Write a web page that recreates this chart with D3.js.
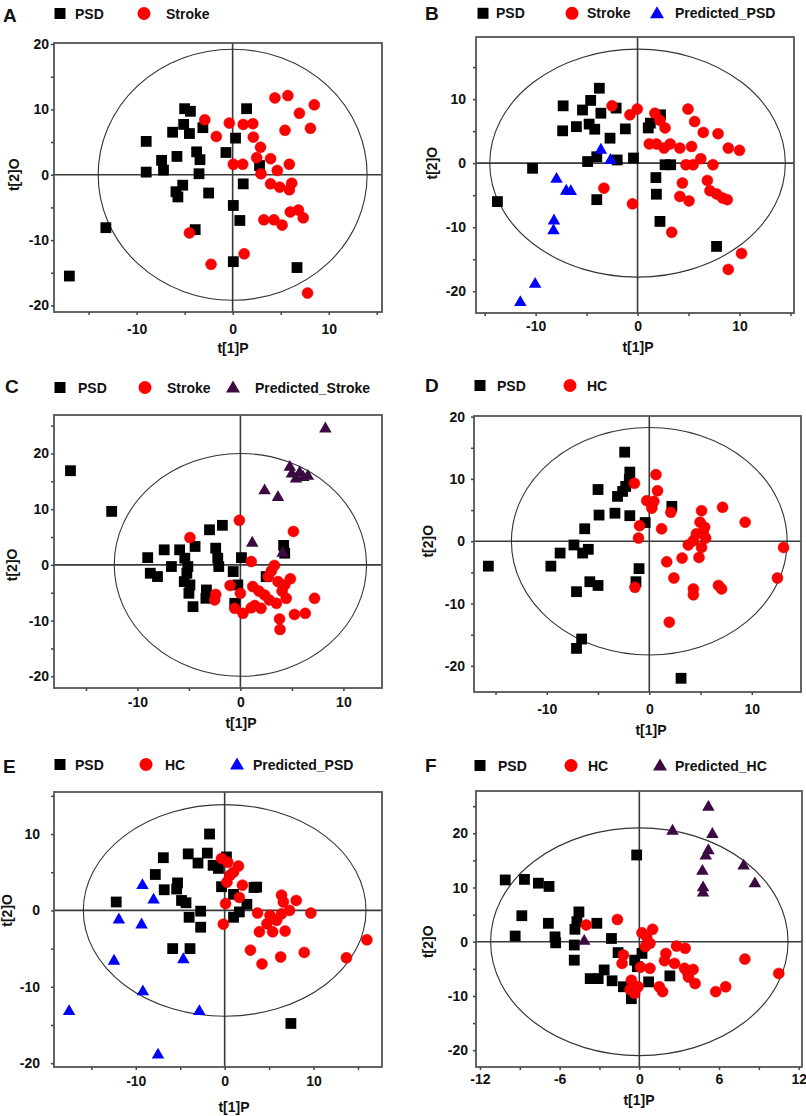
<!DOCTYPE html>
<html><head><meta charset="utf-8">
<script src="https://cdn.jsdelivr.net/npm/d3@7"></script>
<style>
body{margin:0;background:#fff}
svg text{font-family:"Liberation Sans",Arial,Helvetica,sans-serif;font-weight:bold;fill:#111}
</style></head><body>
<svg id="chart" width="806" height="1116"></svg>
<script>
// ---------- DATA ----------
const A_PSD = [[-17.0,-15.5],[-13.2,-8.1],[-9.0,5.1],[-9.0,0.4],[-7.4,2.2],[-7.2,0.7],[-6.25,6.5],[-5.8,2.8],[-5.9,-2.6],[-5.7,-3.4],[-5.2,-1.6],[-5.1,7.7],[-5.0,10.1],[-4.4,9.7],[-4.5,6.3],[-3.75,3.5],[-3.4,2.3],[-3.5,0.15],[-3.1,7.2],[-3.9,-8.4],[-2.5,-2.8],[-0.7,3.4],[0.3,5.6],[0.07,-4.7],[0.75,-7.0],[0.07,-13.3],[1.1,-1.4],[1.45,10.1],[2.8,1.4],[6.7,-14.2]];
const A_Stroke = [[-2.9,8.4],[-1.7,5.85],[-0.35,7.9],[1.1,7.7],[2.1,7.8],[2.15,5.75],[2.9,4.2],[2.5,2.6],[2.95,0.15],[0.07,1.6],[1.05,1.6],[3.95,2.45],[4.65,0.65],[5.9,1.6],[3.95,-1.4],[4.9,-1.9],[5.9,-2.3],[6.15,-1.3],[4.4,11.75],[5.75,12.1],[6.95,9.4],[8.5,10.7],[5.45,6.8],[8.1,7.1],[3.25,-6.9],[4.3,-6.9],[5.15,-7.7],[6.0,-5.7],[6.85,-5.4],[7.35,-6.6],[-4.5,-8.9],[-2.25,-13.7],[1.2,-12.1],[7.8,-18.1]];

const B_PSD = [[-13.75,-6.0],[-10.3,-0.8],[-7.3,8.95],[-7.35,5.05],[-6.0,5.7],[-5.4,8.3],[-4.6,9.8],[-3.75,11.7],[-3.6,7.8],[-4.75,6.1],[-4.2,5.3],[-4.9,0.25],[-4.0,1.0],[-2.7,3.9],[-2.1,8.6],[-2.0,0.5],[-1.2,5.35],[-0.4,0.8],[-4.0,-5.7],[1.05,5.5],[1.25,6.25],[2.25,7.55],[1.8,-2.25],[1.85,-4.85],[2.2,-9.1],[2.7,-0.25],[3.25,-0.25],[7.75,-13.0]];
const B_Stroke = [[-2.5,8.95],[-0.75,7.55],[-0.03,8.45],[1.7,7.8],[2.2,6.7],[2.7,5.5],[1.15,3.0],[1.85,3.0],[2.6,2.35],[3.2,3.0],[4.15,2.35],[5.3,2.6],[4.95,8.45],[5.6,6.5],[6.45,4.8],[7.9,4.6],[8.9,2.35],[10.0,2.0],[4.75,-0.25],[5.45,-0.25],[6.2,0.7],[7.4,-0.25],[4.4,-3.1],[4.15,-5.2],[5.05,-5.9],[6.85,-2.7],[7.1,-4.3],[7.75,-4.8],[8.35,-5.45],[8.8,-5.7],[-3.3,-3.9],[-0.5,-6.35],[3.35,-10.8],[10.2,-14.1],[8.9,-16.6]];
const B_Predicted_PSD = [[-3.6,2.2],[-2.65,0.6],[-7.95,-2.35],[-7.0,-4.2],[-6.55,-4.25],[-8.2,-8.85],[-8.25,-10.4],[-10.05,-18.75],[-11.5,-21.6]];

const C_PSD = [[-16.5,16.9],[-12.5,9.6],[-9.0,1.3],[-8.75,-1.5],[-8.05,-2.1],[-7.4,2.7],[-6.7,-0.3],[-5.9,2.7],[-5.4,1.2],[-5.1,-0.3],[-5.2,-1.5],[-5.45,-3.0],[-4.9,-3.6],[-5.0,-5.1],[-4.4,3.3],[-4.6,-7.5],[-3.3,-4.5],[-3.35,-6.0],[-3.0,6.3],[-2.4,3.0],[-2.2,1.2],[-2.1,-0.3],[-1.75,7.1],[-0.7,-1.2],[-0.25,-3.6],[-0.55,-6.9],[0.1,1.3],[2.5,-2.1],[4.2,3.5],[4.3,2.1]];
const C_Stroke = [[-4.9,4.9],[-2.4,-5.3],[-2.5,-6.3],[-1.0,-3.7],[-0.1,8.0],[0.0,-5.1],[-0.55,-7.8],[0.25,-8.7],[1.05,0.6],[1.2,-3.9],[1.4,-7.3],[1.8,-4.7],[2.0,-7.8],[2.35,-5.4],[2.8,-6.3],[2.7,-2.1],[3.0,-1.1],[3.3,-0.1],[3.65,-3.0],[3.5,-6.9],[4.05,-4.7],[4.3,-3.6],[4.45,-6.0],[4.85,-2.5],[3.8,-9.7],[3.85,-11.6],[5.15,6.0],[5.25,-8.9],[6.3,-8.7],[7.2,-6.0],[1.05,-7.7]];
const C_Predicted_Stroke = [[8.25,24.6],[4.8,17.7],[5.0,16.5],[5.75,16.7],[6.1,15.9],[6.55,16.1],[5.4,15.6],[2.35,13.5],[3.65,12.3],[1.15,4.1],[4.1,2.3]];

const D_PSD = [[-15.7,-4.0],[-9.6,-4.0],[-8.7,-1.9],[-7.35,-0.6],[-6.5,-1.9],[-5.95,-1.3],[-6.3,2.0],[-7.1,-8.1],[-5.8,-6.5],[-5.0,-7.1],[-4.9,4.2],[-5.0,8.3],[-3.35,4.5],[-3.1,7.2],[-2.6,8.0],[-2.3,8.8],[-1.9,11.1],[-2.4,14.3],[-1.9,4.1],[-0.4,3.0],[-1.0,-4.4],[-1.3,-6.5],[2.2,5.6],[-7.1,-17.2],[-6.6,-15.7],[3.1,-22.0],[-1.95,9.9]];
const D_HC = [[-1.45,9.3],[0.65,10.7],[0.8,8.1],[-0.25,6.5],[0.45,6.4],[0.25,5.3],[-0.95,2.5],[-1.05,0.5],[1.2,2.0],[2.1,4.65],[-1.4,-7.4],[1.7,-3.3],[2.4,-5.9],[3.2,-2.7],[1.95,-13.0],[3.8,-0.6],[4.3,0.1],[4.85,-2.6],[4.95,3.05],[5.1,4.9],[5.25,1.45],[5.4,2.25],[5.5,0.5],[5.1,-1.0],[4.3,-7.65],[4.3,-8.6],[6.75,-7.1],[7.05,-7.65],[7.15,5.45],[9.35,3.05],[12.5,-5.9],[13.1,-1.0],[4.6,1.2]];

const E_PSD = [[-12.2,1.1],[-7.8,4.7],[-6.9,6.9],[-6.8,2.7],[-5.4,2.8],[-5.3,3.6],[-5.85,-5.0],[-4.85,1.3],[-4.35,1.0],[-4.0,-0.9],[-3.9,-5.0],[-4.1,7.4],[-3.0,6.2],[-2.7,-0.1],[-2.7,-2.2],[-1.95,7.5],[-1.7,10.0],[-1.3,5.9],[-0.7,5.5],[-0.35,3.1],[0.2,7.0],[1.0,2.1],[1.0,-0.9],[1.65,-0.2],[2.5,0.8],[3.3,3.0],[3.6,3.05],[7.45,-14.8]];
const E_HC = [[-0.35,6.8],[0.35,6.3],[1.55,5.8],[1.0,5.0],[0.6,4.6],[0.25,3.7],[2.0,3.3],[1.65,1.7],[0.1,0.9],[-0.15,-1.8],[3.7,-0.35],[3.9,-2.8],[4.75,-1.75],[5.1,-0.65],[5.4,-2.8],[5.85,-1.3],[6.4,2.0],[6.6,1.1],[6.4,-0.45],[7.3,0.0],[8.05,1.3],[6.8,-2.7],[9.7,-0.35],[2.9,-5.2],[4.2,-7.0],[6.3,-6.1],[8.95,-5.5],[13.7,-6.2],[16.0,-3.85]];
const E_Predicted_PSD = [[-9.25,3.4],[-8.0,1.5],[-11.9,-1.1],[-9.35,-1.75],[-12.45,-6.5],[-4.65,-6.3],[-9.2,-10.5],[-2.85,-13.1],[-17.5,-13.1],[-7.5,-18.8]];

const F_PSD = [[-10.1,11.4],[-8.65,11.5],[-7.6,10.8],[-6.8,10.2],[-8.85,4.8],[-9.35,1.05],[-6.85,3.4],[-6.35,0.9],[-6.3,-0.2],[-4.55,5.5],[-4.7,3.7],[-4.85,2.3],[-4.9,-0.6],[-4.9,-3.4],[-3.2,3.4],[-3.7,-6.8],[-3.1,-6.8],[-2.65,-5.2],[-2.05,-7.2],[-2.1,0.6],[-1.6,-2.0],[-1.2,-8.3],[-0.6,-10.5],[-0.35,-3.4],[-0.15,-4.6],[0.2,-2.15],[0.7,-7.4],[2.3,-6.3],[-0.2,16.0]];
const F_HC = [[-4.0,3.1],[-1.65,4.1],[-1.2,-2.45],[-1.3,-4.0],[-0.6,-7.1],[-0.7,-8.8],[-0.35,-9.5],[-0.1,-8.3],[0.2,1.65],[0.55,0.9],[1.0,2.3],[0.8,-0.3],[0.45,-0.9],[0.1,-4.7],[0.8,-4.9],[1.5,-8.3],[1.75,-9.2],[2.0,-2.15],[1.9,-3.5],[2.65,-4.0],[2.8,-0.8],[3.45,-1.2],[3.4,-4.9],[3.65,-5.7],[4.05,-5.1],[4.2,-7.7],[5.75,-9.2],[6.5,-8.3],[7.95,-3.2],[10.5,-5.85],[3.7,-6.5]];
const F_Predicted_HC = [[5.2,25.0],[2.5,20.6],[5.5,20.0],[5.2,17.0],[5.0,16.0],[4.75,13.2],[4.8,10.15],[4.8,9.2],[7.85,14.15],[8.7,10.9],[-4.15,0.3]];

// tick values
const ticksX10 = [-10, 0, 10];
const minorX15 = [-15, -5, 5, 15];
const minorX5 = [-15, -5, 5];
const ticksY20 = [-20, -10, 0, 10, 20];
const ticksY10 = [-20, -10, 0, 10];
const minorY15 = [-15, -5, 5, 15];
const minorY25 = [-15, -5, 5, 15, 25];
const ticksXF = [-12, -6, 0, 6, 12];
const minorXF = [-9, -3, 3, 9];

// ---------- STYLE / LAYOUT ----------
const COL = {PSD:"#000000", red:"#ff0000", blue:"#0000ff", purple:"#3a0a40"};
const S = (name, data, shape, color) => ({name, data, shape, color});

const panels = [
 {id:"A", series:[S("PSD",A_PSD,"square",COL.PSD),S("Stroke",A_Stroke,"circle",COL.red)],
  box:{l:54,r:382,t:43,b:312}, xDom:[-18.6,15.55], yDom:[-21.0,20.15], rx:14, ry:19.2,
  xT:ticksX10, xM:minorX15, yT:ticksY20, yM:minorY15,
  letter:[3,21.5], legY:13.5, legX:[[60,75],[144,166]], yPad:5, xLabY:18, xTitle:[233,348], yTitleX:14},
 {id:"B", series:[S("PSD",B_PSD,"square",COL.PSD),S("Stroke",B_Stroke,"circle",COL.red),S("Predicted_PSD",B_Predicted_PSD,"triangle",COL.blue)],
  box:{l:476,r:794,t:37,b:313}, xDom:[-15.85,15.35], yDom:[-23.4,19.7], rx:14.5, ry:17.8,
  xT:ticksX10, xM:minorX15, yT:ticksY10, yM:minorY15,
  letter:[425,20], legY:13.3, legX:[[483,496],[572,587],[657,675]], yPad:10, xLabY:14, xTitle:[638,347], yTitleX:432},
 {id:"C", series:[S("PSD",C_PSD,"square",COL.PSD),S("Stroke",C_Stroke,"circle",COL.red),S("Predicted_Stroke",C_Predicted_Stroke,"triangle",COL.purple)],
  box:{l:54,r:382,t:415,b:688}, xDom:[-18.1,13.75], yDom:[-22.1,26.9], rx:12.25, ry:20,
  xT:ticksX10, xM:minorX5, yT:ticksY20, yM:minorY25,
  letter:[5,393], legY:387.5, legX:[[60,78],[145,167],[233,255]], yPad:5, xLabY:15, xTitle:[241,723], yTitleX:12},
 {id:"D", series:[S("PSD",D_PSD,"square",COL.PSD),S("HC",D_HC,"circle",COL.red)],
  box:{l:474,r:801,t:416,b:692}, xDom:[-17.1,14.8], yDom:[-24.2,20.1], rx:13.45, ry:18.25,
  xT:ticksX10, xM:minorX5, yT:ticksY20, yM:minorY15,
  letter:[425,391.5], legY:385.5, legX:[[480,497],[570,587]], yPad:9, xLabY:18, xTitle:[651,730], yTitleX:428},
 {id:"E", series:[S("PSD",E_PSD,"square",COL.PSD),S("HC",E_HC,"circle",COL.red),S("Predicted_PSD",E_Predicted_PSD,"triangle",COL.blue)],
  box:{l:54,r:382,t:792,b:1067}, xDom:[-19.2,17.7], yDom:[-20.5,15.5], rx:15.9, ry:13.85,
  xT:ticksX10, xM:minorX15, yT:ticksY10, yM:minorY15,
  letter:[3,773], legY:764.5, legX:[[60,75],[146,165],[237,253]], yPad:14, xLabY:15, xTitle:[234,1107], yTitleX:7},
 {id:"F", series:[S("PSD",F_PSD,"square",COL.PSD),S("HC",F_HC,"circle",COL.red),S("Predicted_HC",F_Predicted_HC,"triangle",COL.purple)],
  box:{l:476,r:802,t:791,b:1067}, xDom:[-12.3,12.25], yDom:[-23.1,27.8], rx:11.2, ry:21,
  xT:ticksXF, xM:minorXF, yT:ticksY20, yM:minorY25,
  letter:[425,772], legY:765.5, legX:[[480,498],[571,588],[660,675]], yPad:8, xLabY:13.5, xTitle:[639,1100], yTitleX:428}
];

const svg = d3.select("#chart");
const FS = 14;
const fmt = d => String(d);   // plain hyphen-minus like the reference
const symType = {square:d3.symbolSquare, circle:d3.symbolCircle, triangle:d3.symbolTriangle};
const symSize = {square:10.8*10.8, circle:Math.PI*5.5*5.5, triangle:0.433*12.5*12.5};
const legSize = {square:11*11, circle:Math.PI*6.5*6.5, triangle:0.433*14*14};

panels.forEach(p => {
  const g = svg.append("g");
  const x = d3.scaleLinear().domain(p.xDom).range([p.box.l, p.box.r]);
  const y = d3.scaleLinear().domain(p.yDom).range([p.box.b, p.box.t]);
  const clipId = "clip" + p.id;
  g.append("clipPath").attr("id", clipId).append("rect")
    .attr("x", p.box.l).attr("y", p.box.t).attr("width", p.box.r - p.box.l).attr("height", p.box.b - p.box.t);

  // crosshair lines
  g.append("line").attr("x1", x(0)).attr("x2", x(0)).attr("y1", p.box.t).attr("y2", p.box.b)
    .attr("stroke", "#3a3a3a").attr("stroke-width", 1.6);
  g.append("line").attr("x1", p.box.l).attr("x2", p.box.r).attr("y1", y(0)).attr("y2", y(0))
    .attr("stroke", "#3a3a3a").attr("stroke-width", 1.6);

  // Hotelling ellipse
  g.append("ellipse").attr("cx", x(0)).attr("cy", y(0))
    .attr("rx", x(p.rx) - x(0)).attr("ry", y(0) - y(p.ry))
    .attr("fill", "none").attr("stroke", "#333").attr("stroke-width", 1.1);

  // frame
  g.append("rect").attr("x", p.box.l).attr("y", p.box.t)
    .attr("width", p.box.r - p.box.l).attr("height", p.box.b - p.box.t)
    .attr("fill", "none").attr("stroke", "#555").attr("stroke-width", 1.8);

  // axes
  const styleAxis = sel => {
    sel.select(".domain").remove();
    sel.selectAll(".tick line").attr("stroke", "#444").attr("stroke-width", 1.5);
    sel.selectAll(".tick text").attr("font-size", FS).attr("fill", "#111")
      .style("font-family", '"Liberation Sans",Arial,sans-serif').style("font-weight", "bold");
  };
  g.append("g").attr("transform", `translate(0,${p.box.b})`)
    .call(d3.axisBottom(x).tickValues(p.xT).tickSize(3).tickPadding(p.xLabY - 9).tickFormat(fmt))
    .call(styleAxis);
  g.append("g").attr("transform", `translate(0,${p.box.b})`)
    .call(d3.axisBottom(x).tickValues(p.xM).tickSize(3).tickFormat(""))
    .call(styleAxis);
  g.append("g").attr("transform", `translate(${p.box.l},0)`)
    .call(d3.axisLeft(y).tickValues(p.yT).tickSize(3).tickPadding(p.yPad - 3).tickFormat(fmt))
    .call(styleAxis);
  g.append("g").attr("transform", `translate(${p.box.l},0)`)
    .call(d3.axisLeft(y).tickValues(p.yM).tickSize(3).tickFormat(""))
    .call(styleAxis);

  // axis titles
  g.append("text").attr("x", p.xTitle[0]).attr("y", p.xTitle[1] + 5).attr("text-anchor", "middle")
    .attr("font-size", FS).text("t[1]P");
  g.append("text").attr("transform", `translate(${p.yTitleX + 5},${y(0)}) rotate(-90)`)
    .attr("text-anchor", "middle").attr("font-size", FS).text("t[2]O");

  // points
  const pts = g.append("g").attr("clip-path", `url(#${clipId})`);
  p.series.forEach(s => {
    pts.selectAll(null).data(s.data).enter().append("path")
      .attr("d", d3.symbol().type(symType[s.shape]).size(symSize[s.shape]))
      .attr("transform", d => `translate(${x(d[0])},${y(d[1]) + (s.shape === "triangle" ? 1 : 0)})`)
      .attr("fill", s.color)
      .attr("stroke", s.shape === "circle" ? "#e00000" : "none").attr("stroke-width", 0.5);
  });

  // panel letter & legend
  g.append("text").attr("x", p.letter[0]).attr("y", p.letter[1]).attr("font-size", 19).text(p.id);
  p.series.forEach((s, i) => {
    const [mx, tx] = p.legX[i];
    g.append("path").attr("d", d3.symbol().type(symType[s.shape]).size(legSize[s.shape]))
      .attr("transform", `translate(${mx},${p.legY + (s.shape === "triangle" ? 1 : 0)})`)
      .attr("fill", s.color);
    g.append("text").attr("x", tx).attr("y", p.legY + 5).attr("font-size", FS).text(s.name);
  });
});
</script>
</body></html>
